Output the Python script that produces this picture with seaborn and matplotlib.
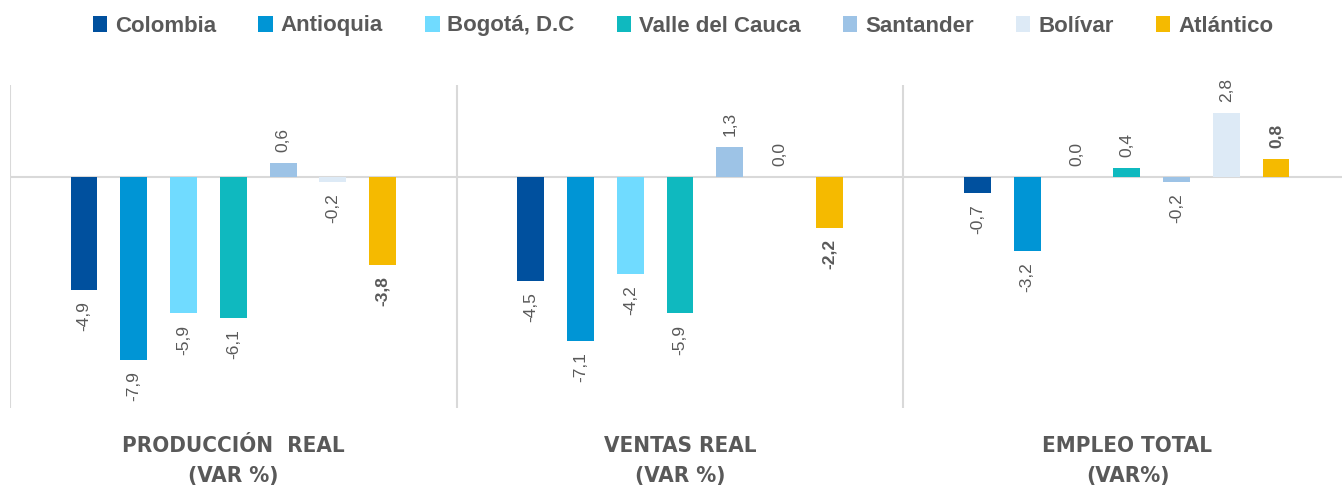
import numpy as np
import pandas as pd
import matplotlib
matplotlib.use("Agg")
import matplotlib.pyplot as plt
import seaborn as sns

categories = ["PRODUCCIÓN  REAL\n(VAR %)", "VENTAS REAL\n(VAR %)", "EMPLEO TOTAL\n(VAR%)"]
regions = ["Colombia", "Antioquia", "Bogotá, D.C", "Valle del Cauca", "Santander", "Bolívar", "Atlántico"]
produccion = [-4.9, -7.9, -5.9, -6.1, 0.6, -0.2, -3.8]
ventas = [-4.5, -7.1, -4.2, -5.9, 1.3, 0.0, -2.2]
empleo = [-0.7, -3.2, 0.0, 0.4, -0.2, 2.8, 0.8]
colors = ["#00509E", "#0095D5", "#70DBFF", "#0FB9BF", "#9DC3E6", "#DDEAF6", "#F5BA00"]

sns.set_theme(style="white")
plt.rcParams['font.family'] = ['Liberation Sans', 'DejaVu Sans']

rows = []
for cat, vals in zip(categories, [produccion, ventas, empleo]):
    for r, v in zip(regions, vals):
        rows.append({"cat": cat, "region": r, "val": v})
df = pd.DataFrame(rows)

fig = plt.figure(figsize=(13.42, 4.91), dpi=100)
ax = fig.add_axes([10/1342, (491-408)/491, 1 - 10/1342 + 0.006, (408-85)/491])
sns.barplot(data=df, x="cat", y="val", hue="region", hue_order=regions,
            palette=colors, width=0.78, gap=0.46, ax=ax, legend=True, saturation=1,
            linewidth=0)

ax.set_ylim(-10, 4)
ax.set_xlim(-0.5, 2.5)
for s in ax.spines.values():
    s.set_visible(False)
ax.set_yticks([])
ax.set_xticks([])
ax.set_xlabel("")
ax.set_ylabel("")
ax.axhline(0, color="#d9d9d9", lw=1.5, zorder=0)
for xb in [-0.5, 0.5, 1.5, 2.5]:
    ax.axvline(xb, color="#d9d9d9", lw=1.5, zorder=0)

# labels
for container, reg in zip(ax.containers, regions):
    bold = reg == "Atlántico"
    for bar in container:
        val = bar.get_y() if bar.get_y() < 0 else bar.get_y() + bar.get_height()
        xc = bar.get_x() + bar.get_width() / 2
        txt = f"{val:.1f}".replace(".", ",")
        if val < 0:
            ax.annotate(txt, (xc, val), xytext=(0, -8), textcoords="offset points",
                        rotation=90, ha="center", va="top", fontsize=12.5,
                        color="#595959", fontweight="bold" if bold else "normal")
        else:
            ax.annotate(txt, (xc, val), xytext=(0, 8), textcoords="offset points",
                        rotation=90, ha="center", va="bottom", fontsize=12.5,
                        color="#595959", fontweight="bold" if bold else "normal")

# category labels
for i, cat in enumerate(categories):
    fig.text((10 + 447 * i + 223.5) / 1342, 1 - 461/491, cat, ha="center", va="center",
             fontsize=16, fontweight="bold", color="#595959", linespacing=1.65,
             fontfamily=["DejaVu Sans"], fontstretch="condensed")

leg = ax.legend(loc="center", bbox_to_anchor=(683/1342, 1 - 26/491), bbox_transform=fig.transFigure,
                ncol=7, frameon=False, fontsize=16, handlelength=0.65, handleheight=0.7,
                handletextpad=0.35, columnspacing=1.9)
for t in leg.get_texts():
    t.set_color("#595959")
    t.set_fontweight("bold")

fig.savefig("out.png", dpi=100)
